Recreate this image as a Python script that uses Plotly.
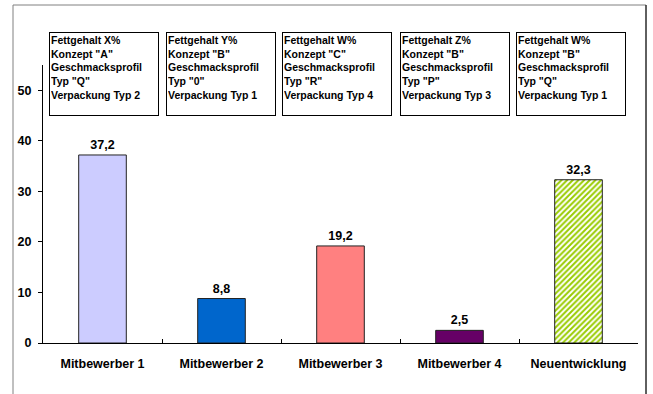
import plotly.graph_objects as go

categories = ["Mitbewerber 1", "Mitbewerber 2", "Mitbewerber 3", "Mitbewerber 4", "Neuentwicklung"]
values = [37.2, 8.8, 19.2, 2.5, 32.3]
bar_colors = ["#CCCCFF", "#0066CC", "#FF8080", "#660066"]
hatch_color = "#99CC00"
box_texts = [
    ["Fettgehalt X%", 'Konzept "A"', "Geschmacksprofil", 'Typ "Q"', "Verpackung Typ 2"],
    ["Fettgehalt Y%", 'Konzept "B"', "Geschmacksprofil", 'Typ "0"', "Verpackung Typ 1"],
    ["Fettgehalt W%", 'Konzept "C"', "Geschmacksprofil", 'Typ "R"', "Verpackung Typ 4"],
    ["Fettgehalt Z%", 'Konzept "B"', "Geschmacksprofil", 'Typ "P"', "Verpackung Typ 3"],
    ["Fettgehalt W%", 'Konzept "B"', "Geschmacksprofil", 'Typ "Q"', "Verpackung Typ 1"],
]
y_ticks = [0, 10, 20, 30, 40, 50]

FONT = "Liberation Sans, Arial, sans-serif"

# plot area in pixels
W, H = 653, 394
L, R, T, B = 43, 15, 65, 51
pw, ph = W - L - R, H - T - B

def px_x(p):
    return (p - L) / pw

def px_y(p):
    return (H - B - p) / ph

text_font = dict(family=FONT, size=12.5, color="#000000", weight="bold")

fig = go.Figure()
fig.add_trace(go.Bar(
    x=categories[:4],
    y=values[:4],
    width=0.4,
    marker=dict(color=bar_colors, line=dict(color="#222222", width=1)),
    texttemplate="%{y:.1f}",
    textposition="outside",
    textfont=text_font,
    cliponaxis=False,
    hoverinfo="skip",
))
fig.add_trace(go.Bar(
    x=categories[4:],
    y=values[4:],
    width=0.4,
    marker=dict(
        color="#FFFFFF",
        line=dict(color="#222222", width=1),
        pattern=dict(shape="/", fgcolor=hatch_color, bgcolor="#FFFFFF",
                     size=4, solidity=0.5, fillmode="replace"),
    ),
    texttemplate="%{y:.1f}",
    textposition="outside",
    textfont=text_font,
    cliponaxis=False,
    hoverinfo="skip",
))

box_left_px = [49, 166, 282, 400, 516]
box_top_px = 32
annotations = []
for bx, lines in zip(box_left_px, box_texts):
    annotations.append(dict(
        xref="paper", yref="paper",
        x=px_x(bx), y=px_y(box_top_px),
        xanchor="left", yanchor="top",
        text="<b>" + "<br>".join(lines) + "</b>",
        showarrow=False,
        align="left", valign="top",
        width=106, height=80,
        borderpad=1,
        bordercolor="#000000", borderwidth=1,
        bgcolor="#FFFFFF",
        font=dict(family=FONT, size=10.5, color="#000000"),
    ))

fig.update_layout(
    width=W, height=H,
    margin=dict(l=L, r=R, t=T, b=B),
    paper_bgcolor="#FFFFFF",
    plot_bgcolor="#FFFFFF",
    separators=",.",
    showlegend=False,
    barmode="overlay",
    font=dict(family=FONT, size=12, color="#000000"),
    annotations=annotations,
    shapes=[
        dict(type="rect", xref="paper", yref="paper",
             x0=px_x(13), x1=px_x(646), y0=px_y(420), y1=px_y(5),
             line=dict(color="#808080", width=1), fillcolor="rgba(0,0,0,0)", layer="below"),
        dict(type="line", xref="paper", yref="paper",
             x0=px_x(646), x1=px_x(646), y0=px_y(420), y1=px_y(5),
             line=dict(color="#000000", width=1)),
    ],
    xaxis=dict(
        categoryorder="array", categoryarray=categories,
        showgrid=False,
        showline=True, linecolor="#000000", linewidth=1,
        ticks="inside", ticklen=4, tickcolor="#000000",
        tickson="boundaries",
        tickfont=dict(family=FONT, size=12.5, color="#000000", weight="bold"),
        ticklabelstandoff=9,
        fixedrange=True,
    ),
    yaxis=dict(
        range=[0, 55],
        tickvals=y_ticks,
        showgrid=False, zeroline=False,
        showline=True, linecolor="#000000", linewidth=1,
        ticks="outside", ticklen=4, tickcolor="#000000",
        tickfont=dict(family=FONT, size=12.5, color="#000000", weight="bold"),
        ticklabelstandoff=4,
        fixedrange=True,
    ),
)

fig.write_html("out.html")
